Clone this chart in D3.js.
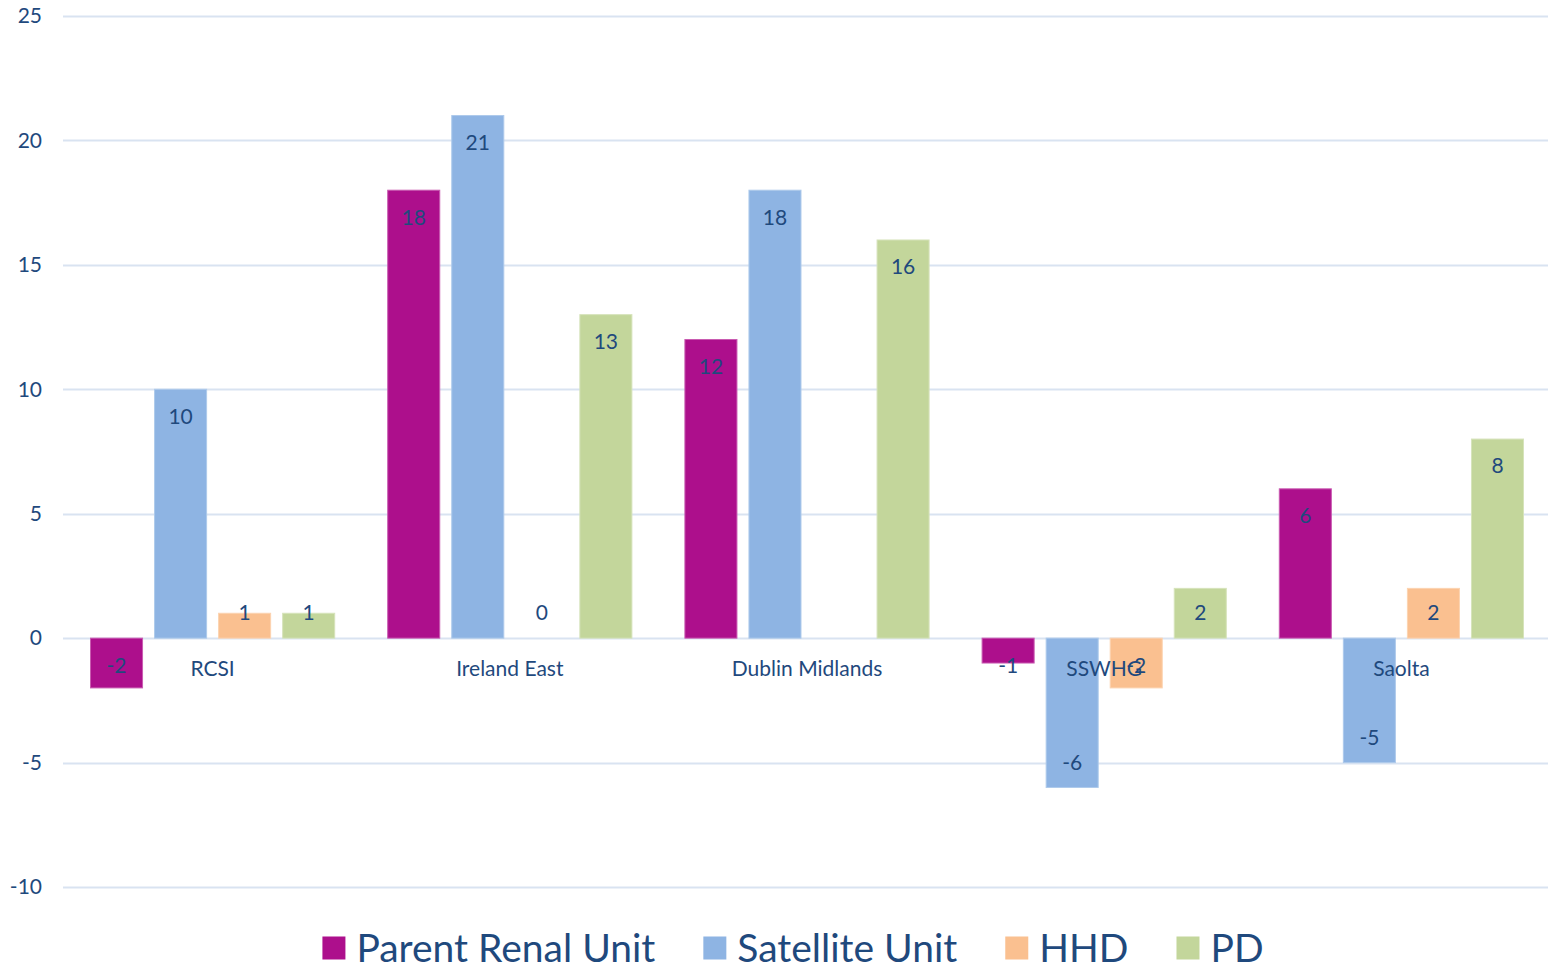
<!DOCTYPE html>
<html>
<head>
<meta charset="utf-8">
<script src="https://cdn.jsdelivr.net/npm/d3@7"></script>
<style>
  body { margin: 0; background: #fff; }
  svg text { font-family: Lato, "Open Sans", sans-serif; fill: #1F497D; }
</style>
</head>
<body>
<svg id="chart" width="1548" height="967"></svg>
<script>
// data
var regions = ["RCSI", "Ireland East", "Dublin Midlands", "SSWHG", "Saolta"];
var seriesNames = ["Parent Renal Unit", "Satellite Unit", "HHD", "PD"];
var parentRenal = [-2, 18, 12, -1, 6];
var satellite = [10, 21, 18, -6, -5];
var hhd = [1, 0, null, -2, 2];
var pd = [1, 13, 16, 2, 8];
var yTicks = [-10, -5, 0, 5, 10, 15, 20, 25];

var colors = ["#AD0F8C", "#8EB4E3", "#FAC090", "#C3D69B"];
var strokes = ["#C95BB1", "#AECAEB", "#FCD3B0", "#D6E3BB"];
var allValues = [parentRenal, satellite, hhd, pd];

var svg = d3.select("#chart"),
    width = +svg.attr("width"),
    height = +svg.attr("height");

var plotLeft = 63, plotRight = 1548, plotTop = 16, plotBottom = 887;

var y = d3.scaleLinear().domain([-10, 25]).range([plotBottom, plotTop]);

// categories are spread a touch wider than the gridlines in the original
var x0 = d3.scaleBand().domain(regions).range([plotLeft + 1, plotRight + 2]).padding(0);

var x1 = d3.scaleBand().domain(seriesNames)
    .range([26.5, x0.bandwidth() - 26.5])
    .paddingInner(0.1875).paddingOuter(0);

// gridlines
svg.append("g").attr("class", "grid")
  .selectAll("line")
  .data(yTicks)
  .enter().append("line")
  .attr("x1", plotLeft).attr("x2", plotRight)
  .attr("y1", function(d) { return Math.round(y(d)) + 0.5; })
  .attr("y2", function(d) { return Math.round(y(d)) + 0.5; })
  .attr("stroke", "#D9E3F1")
  .attr("stroke-width", 2);

// y tick labels
svg.append("g").attr("class", "y-labels")
  .selectAll("text")
  .data(yTicks)
  .enter().append("text")
  .attr("x", 42)
  .attr("y", function(d) { return y(d); })
  .attr("dy", "0.35em")
  .attr("text-anchor", "end")
  .style("font-size", "21px")
  .text(function(d) { return d; });

// build flat rows for the bars
var rows = [];
regions.forEach(function(r, i) {
  seriesNames.forEach(function(s, j) {
    rows.push({ region: r, series: s, idx: j, value: allValues[j][i] });
  });
});

var bars = svg.append("g").attr("class", "bars");

bars.selectAll("rect")
  .data(rows.filter(function(d) { return d.value !== null && d.value !== 0; }))
  .enter().append("rect")
  .attr("x", function(d) { return x0(d.region) + x1(d.series); })
  .attr("y", function(d) { return y(Math.max(0, d.value)); })
  .attr("width", x1.bandwidth())
  .attr("height", function(d) { return Math.abs(y(d.value) - y(0)); })
  .attr("fill", function(d) { return colors[d.idx]; })
  .attr("stroke", function(d) { return strokes[d.idx]; })
  .attr("stroke-width", 1);

// category labels (drawn before data labels, like excel)
svg.append("g").attr("class", "x-labels")
  .selectAll("text")
  .data(regions)
  .enter().append("text")
  .attr("x", function(d) { return x0(d) + x0.bandwidth() / 2; })
  .attr("y", y(0) + 31)
  .attr("dy", "0.35em")
  .attr("text-anchor", "middle")
  .style("font-size", "21px")
  .text(function(d) { return d; });

// data labels, inside end
svg.append("g").attr("class", "values")
  .selectAll("text")
  .data(rows.filter(function(d) { return d.value !== null; }))
  .enter().append("text")
  .attr("x", function(d) { return x0(d.region) + x1(d.series) + x1.bandwidth() / 2; })
  .attr("y", function(d) {
    if (d.value >= 0) return Math.min(y(d.value) + 27, y(0) - 25);
    return Math.max(y(d.value) - 25, y(0) + 28);
  })
  .attr("dy", "0.35em")
  .attr("text-anchor", "middle")
  .style("font-size", "21px")
  .text(function(d) { return d.value; });

// legend
var legend = svg.append("g").attr("class", "legend");
var item = legend.selectAll("g")
  .data(seriesNames)
  .enter().append("g");

item.append("rect")
  .attr("width", 23).attr("height", 23)
  .attr("y", -11.5)
  .attr("fill", function(d, i) { return colors[i]; });

item.append("text")
  .attr("x", 34)
  .attr("dy", "0.35em")
  .style("font-size", "39px")
  .text(function(d) { return d; });

var pos = 0, offsets = [];
item.each(function() {
  offsets.push(pos);
  pos += 34 + this.querySelector("text").getComputedTextLength() + 48;
});
var total = pos - 48;
var startX = 793 - total / 2;
item.attr("transform", function(d, i) { return "translate(" + (startX + offsets[i]) + ",948)"; });
</script>
</body>
</html>
